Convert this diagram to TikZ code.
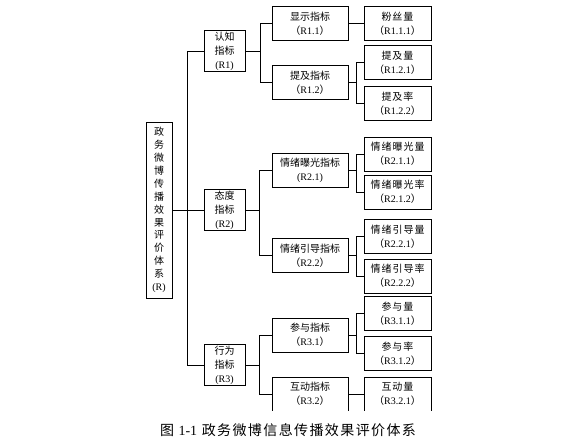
\documentclass[tikz,border=0pt]{standalone}
\usepackage{fontspec}
\setmainfont{Liberation Serif}
\newfontfamily\cjk{Noto Sans CJK SC}
\newfontfamily\cjkancho[LetterSpace=10]{Noto Sans CJK SC}
\newcommand{\lt}[1]{{\rmfamily #1}}

\begin{document}
\begin{tikzpicture}[x=1pt, y=-1pt,
	caja/.style={draw, line width=0.7pt, align=center, inner sep=0pt, font=\cjk\fontsize{10}{14}\selectfont},
	raiz/.style={caja, minimum width=26pt, minimum height=176pt, font=\cjk\fontsize{10}{12.9}\selectfont},
	nivel/.style={caja, minimum width=41pt, minimum height=41pt},
	indicador/.style={caja, minimum width=76pt, minimum height=34pt},
	hoja/.style={caja, minimum width=67pt, minimum height=34pt, font=\cjkancho\fontsize{10}{14}\selectfont},
	linea/.style={line width=0.7pt}]
	\useasboundingbox (0,0) rectangle (575,444);
	
	\begin{scope} % recorte inferior
		\clip (0,0) rectangle (575,410.5);
		% Raiz y primer nivel
		\node[raiz] (R) at (159,210) {政\\务\\微\\博\\传\\播\\效\\果\\评\\价\\体\\系\\\lt{(R)}};
		\node[nivel] (R1) at (224.5,51) {认知\\指标\\\lt{(R1)}};
		\node[nivel] (R2) at (224.5,210) {态度\\指标\\\lt{(R2)}};
		\node[nivel] (R3) at (224.5,365) {行为\\指标\\\lt{(R3)}};
		
		% Segundo nivel
		\node[indicador] (R11) at (310,23.5) {显示指标\\（\lt{R1.1}）};
		\node[indicador] (R12) at (310,82.5) {提及指标\\（\lt{R1.2}）};
		\node[indicador] (R21) at (310,170.5) {情绪曝光指标\\\lt{(R2.1)}};
		\node[indicador] (R22) at (310,255.5) {情绪引导指标\\（\lt{R2.2}）};
		\node[indicador] (R31) at (310,335) {参与指标\\（\lt{R3.1}）};
		\node[indicador] (R32) at (310,394) {互动指标\\（\lt{R3.2}）};
		
		% Tercer nivel
		\node[hoja] (R111) at (397.5,23.5) {粉丝量\\（\lt{R1.1.1}）};
		\node[hoja] (R121) at (397.5,62.5) {提及量\\（\lt{R1.2.1}）};
		\node[hoja] (R122) at (397.5,103.5) {提及率\\（\lt{R1.2.2}）};
		\node[hoja] (R211) at (397.5,154) {情绪曝光量\\（\lt{R2.1.1}）};
		\node[hoja] (R212) at (397.5,192) {情绪曝光率\\（\lt{R2.1.2}）};
		\node[hoja] (R221) at (397.5,236.5) {情绪引导量\\（\lt{R2.2.1}）};
		\node[hoja] (R222) at (397.5,276) {情绪引导率\\（\lt{R2.2.2}）};
		\node[hoja] (R311) at (397.5,313.5) {参与量\\（\lt{R3.1.1}）};
		\node[hoja] (R312) at (397.5,353.5) {参与率\\（\lt{R3.1.2}）};
		\node[hoja] (R321) at (397.5,394) {互动量\\（\lt{R3.2.1}）};
		
		% Conectores
		\draw[linea] (R.east) -- (R2.west);
		\draw[linea] (R.east) ++(15,0) |- (R1.west);
		\draw[linea] (R.east) ++(15,0) |- (R3.west);
		
		\draw[linea] (R1.east) -- ++(15,0) |- (R11.west);
		\draw[linea] (R1.east) ++(15,0) |- (R12.west);
		\draw[linea] (R2.east) -- ++(14,0) |- (R21.west);
		\draw[linea] (R2.east) ++(14,0) |- (R22.west);
		\draw[linea] (R3.east) -- ++(14,0) |- (R31.west);
		\draw[linea] (R3.east) ++(14,0) |- (R32.west);
		
		\draw[linea] (R11.east) -- (R111.west);
		\draw[linea] (R12.east) -- ++(8,0) |- (R121.west);
		\draw[linea] (R12.east) ++(8,0) |- (R122.west);
		\draw[linea] (R21.east) -- ++(8,0) |- (R211.west);
		\draw[linea] (R21.east) ++(8,0) |- (R212.west);
		\draw[linea] (R22.east) -- ++(8,0) |- (R221.west);
		\draw[linea] (R22.east) ++(8,0) |- (R222.west);
		\draw[linea] (R31.east) -- ++(8,0) |- (R311.west);
		\draw[linea] (R31.east) ++(8,0) |- (R312.west);
		\draw[linea] (R32.east) -- (R321.west);
	\end{scope}
	
	% Titulo
	\node[font=\cjkancho\fontsize{14}{16}\selectfont] (titulo) at (288,430) {图 \lt{1-1} 政务微博信息传播效果评价体系};
\end{tikzpicture}
\end{document}
